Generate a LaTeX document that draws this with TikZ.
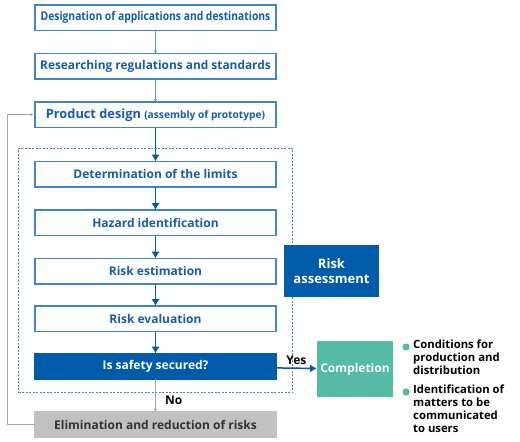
\documentclass[tikz,border=0pt]{standalone}
\usepackage{fontspec}
\setmainfont{Open Sans}
\usepackage{xcolor}
\usetikzlibrary{positioning,arrows.meta,fit,calc}
\definecolor{deepblue}{RGB}{0,91,170}
\definecolor{edgeblue}{RGB}{64,133,200}
\definecolor{textblue}{RGB}{22,92,172}
\definecolor{paleblue}{RGB}{100,150,205}
\definecolor{mint}{RGB}{86,187,164}
\definecolor{lightgray}{RGB}{193,193,193}
\definecolor{linegray}{RGB}{165,165,165}

\begin{document}
\begin{tikzpicture}[
  x=1pt, y=-1pt,
  node distance=23pt,
  stepbox/.style={draw=edgeblue, line width=1.1pt, outer sep=0pt, fill=white, text=textblue, minimum width=241pt, minimum height=25.5pt, inner sep=0pt, font=\bfseries\fontsize{12}{14}\selectfont},
  solidbox/.style={stepbox, fill=deepblue, draw=deepblue, text=white},
  graybox/.style={stepbox, fill=lightgray, draw=lightgray, text=black!80},
  tagbox/.style={fill=deepblue, text=white, align=center, minimum width=95pt, minimum height=52pt, font=\bfseries\fontsize{13}{15}\selectfont},
  endbox/.style={fill=mint, text=white, minimum width=76pt, minimum height=56pt, inner sep=0pt, font=\bfseries\fontsize{12}{14}\selectfont},
  note/.style={align=left, inner sep=0pt, anchor=north west, font=\bfseries\fontsize{11.3}{12.8}\selectfont},
  thin/.style={draw=paleblue, line width=0.8pt, -{Latex[length=3pt,width=3.5pt]}},
  thick/.style={draw=deepblue, line width=1.8pt, -{Latex[length=7pt,width=8.5pt]}},
  back/.style={draw=linegray, line width=0.8pt, -{Latex[length=3pt,width=3.5pt]}}]

  \useasboundingbox (0,0) rectangle (520,442);

  \node[stepbox] (dest) at (155.5,17.75) {\scalebox{0.86}[1]{Designation of applications and destinations}};
  \node[stepbox, below=of dest] (regs) {\scalebox{0.99}[1]{Researching regulations and standards}};
  \node[stepbox, below=of regs] (design) {\fontsize{12.8}{14}\selectfont Product design {\fontsize{10.2}{12}\selectfont(assembly of prototype)}};
  \node[stepbox, below=34pt of design] (limits) {Determination of the limits};
  \node[stepbox, below=of limits] (hazard) {Hazard identification};
  \node[stepbox, below=of hazard] (estim) {Risk estimation};
  \node[stepbox, below=22pt of estim] (evalu) {Risk evaluation};
  \node[solidbox, below=22pt of evalu] (safe) {Is safety secured?};
  \node[graybox, below=33pt of safe] (elim) {Elimination and reduction of risks};

  \node[fit=(limits)(safe), draw=edgeblue, line width=0.7pt, dash pattern=on 2pt off 1.5pt, inner xsep=16.5pt, inner ysep=13.5pt] (frame) {};
  \node[tagbox] (assess) at (331.5,271) {Risk\\assessment};
  \node[endbox] (done) at (355,369) {Completion};

  \node[note] (cond) at (413,340) {Conditions for\\production and\\distribution};
  \node[note] (info) at (413,385) {Identification of\\matters to be\\communicated\\to users};
  \fill[mint] (406,347) circle (3.6pt);
  \fill[mint] (406,392) circle (3.6pt);

  \draw[thin] (dest) -- (regs);
  \draw[thin] (regs) -- (design);
  \draw[thick] (design) -- (limits);
  \draw[thick] (limits) -- (hazard);
  \draw[thick] (hazard) -- (estim);
  \draw[thick] (estim) -- (evalu);
  \draw[thick] (evalu) -- (safe);
  \draw[thick, line width=1.5pt] (safe) -- (done) node[midway, above=-1pt, text=black, font=\bfseries\fontsize{12}{14}\selectfont] {Yes};
  \draw[back] (safe) -- (elim) node[midway, right=6pt, yshift=-5pt, text=black, font=\bfseries\fontsize{12}{14}\selectfont] {No};
  \draw[back, shorten >=1.5pt] (elim.west) -- ++(-28,0) |- (design.west);
\end{tikzpicture}
\end{document}
